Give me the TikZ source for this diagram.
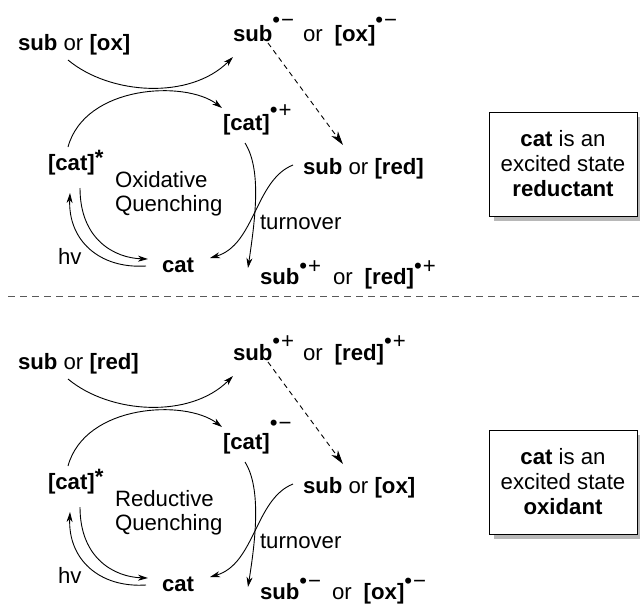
\documentclass[tikz,border=0pt]{standalone}
\usepackage{fontspec}
\setmainfont{Liberation Sans}
\usetikzlibrary{arrows.meta,shadows}
\newcommand\rad[2]{\raisebox{#1}{•\hspace{1pt}#2}}
\begin{document}
\begin{tikzpicture}[x=1pt,y=-1pt,
  every node/.style={inner sep=0pt,outer sep=0pt,font=\fontsize{22.2}{25}\selectfont},
  lbl/.style={anchor=base west},
  conn/.style={line width=0.9pt,-{Stealth[length=10pt,width=6pt,inset=3pt]}},
  dconn/.style={line width=0.9pt,dash pattern=on 5pt off 4pt,-{Stealth[length=14pt,width=8pt,inset=4pt]}},
  sepline/.style={line width=1pt,black!65,dash pattern=on 7pt off 5pt},
  infobox/.style={draw,line width=0.9pt,fill=white,minimum width=148pt,minimum height=104pt,align=center,
    general shadow={fill=black!28,shadow xshift=5pt,shadow yshift=-5pt}}]
\useasboundingbox (0,0) rectangle (640,606);

% ---------- top panel ----------
\node[lbl] (A1) at (18,50) {\textbf{sub} or \textbf{[ox]}};
\node[lbl] (B1) at (233,41) {\textbf{sub}\rad{14pt}{−}};
\node[lbl] (B1b) at (303,41) {or\hspace{12pt}\textbf{[ox]}\rad{14pt}{−}};
\node[lbl] (C1) at (223,130) {\textbf{[cat]}\rad{13pt}{+}};
\node[lbl] (D1) at (48,170) {\textbf{[cat]}\raisebox{5pt}{\textbf{*}}};
\node[lbl] (Q1a) at (115,187) {Oxidative};
\node[lbl] (Q1b) at (115,211) {Quenching};
\node[lbl] (E1) at (303,174) {\textbf{sub} or \textbf{[red]}};
\node[lbl] (T1) at (260,229) {turnover};
\node[lbl] (H1) at (58,264) {hv};
\node[lbl] (K1) at (162,272) {\textbf{cat}};
\node[lbl] (F1) at (260,284) {\textbf{sub}\rad{11pt}{+}};
\node[lbl] (F1b) at (333,284) {or\hspace{12pt}\textbf{[red]}\rad{11pt}{+}};
\node[infobox] (R1) at (563,164) {\textbf{cat} is an\\excited state\\\textbf{reductant}};

\draw[conn] ([shift={(50,10)}]A1.base west) .. controls +(42,35) and +(-43,43) .. ([shift={(0,16)}]B1.base west);
\draw[conn] ([shift={(20,-23)}]D1.base west) .. controls +(17,-62) and +(-37,-28) .. ([shift={(-1,-22)}]C1.base west);
\draw[conn] ([shift={(22,13)}]C1.base west) .. controls +(17,27) and +(7,-48) .. ([shift={(-12,-16)}]F1.base west);
\draw[conn] ([shift={(-10,-9)}]E1.base west) .. controls +(-38,15) and +(45,-13) .. ([shift={(48,-14)}]K1.base west);
\draw[conn] ([shift={(32,18)}]D1.base west) .. controls +(0,52) and +(-33,-1) .. ([shift={(-14,-13)}]K1.base west);
\draw[conn] ([shift={(-16,-6)}]K1.base west) .. controls +(-47,3) and +(-2,47) .. ([shift={(22,23)}]D1.base west);
\draw[dconn] ([shift={(35,2)}]B1.base west) -- ([shift={(40,-29)}]E1.base west);

% ---------- separator ----------
\draw[sepline] (8,296) -- (640,296);

% ---------- bottom panel ----------
\begin{scope}[shift={(0,319)}]
\node[lbl] (A2) at (18,50) {\textbf{sub} or \textbf{[red]}};
\node[lbl] (B2) at (233,41) {\textbf{sub}\rad{12pt}{+}};
\node[lbl] (B2b) at (303,41) {or\hspace{12pt}\textbf{[red]}\rad{12pt}{+}};
\node[lbl] (C2) at (223,130) {\textbf{[cat]}\rad{19pt}{−}};
\node[lbl] (D2) at (48,170) {\textbf{[cat]}\raisebox{5pt}{\textbf{*}}};
\node[lbl] (Q2a) at (115,187) {Reductive};
\node[lbl] (Q2b) at (115,211) {Quenching};
\node[lbl] (E2) at (303,174) {\textbf{sub} or \textbf{[ox]}};
\node[lbl] (T2) at (260,229) {turnover};
\node[lbl] (H2) at (58,264) {hv};
\node[lbl] (K2) at (162,272) {\textbf{cat}};
\node[lbl] (F2) at (260,280) {\textbf{sub}\rad{11pt}{−}};
\node[lbl] (F2b) at (332,280) {or\hspace{12pt}\textbf{[ox]}\rad{11pt}{−}};
\node[infobox] (R2) at (563,163) {\textbf{cat} is an\\excited state\\\textbf{oxidant}};

\draw[conn] ([shift={(50,10)}]A2.base west) .. controls +(42,35) and +(-43,43) .. ([shift={(0,16)}]B2.base west);
\draw[conn] ([shift={(20,-23)}]D2.base west) .. controls +(17,-62) and +(-37,-28) .. ([shift={(-1,-22)}]C2.base west);
\draw[conn] ([shift={(22,13)}]C2.base west) .. controls +(17,27) and +(7,-44) .. ([shift={(-12,-12)}]F2.base west);
\draw[conn] ([shift={(-10,-9)}]E2.base west) .. controls +(-38,15) and +(45,-13) .. ([shift={(48,-14)}]K2.base west);
\draw[conn] ([shift={(32,18)}]D2.base west) .. controls +(0,52) and +(-33,-1) .. ([shift={(-14,-13)}]K2.base west);
\draw[conn] ([shift={(-16,-6)}]K2.base west) .. controls +(-47,3) and +(-2,47) .. ([shift={(22,23)}]D2.base west);
\draw[dconn] ([shift={(35,2)}]B2.base west) -- ([shift={(40,-29)}]E2.base west);
\end{scope}
\end{tikzpicture}
\end{document}
